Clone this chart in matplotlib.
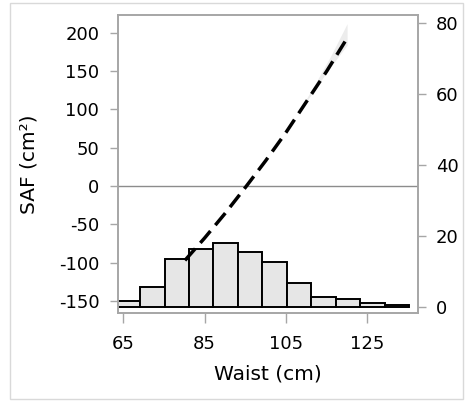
import matplotlib
matplotlib.use("Agg")
import matplotlib.pyplot as plt
from matplotlib.patches import Rectangle

plt.rcParams["axes.unicode_minus"] = False

# histogram of waist (right axis, counts)
bin_left = [63.2, 69.2, 75.2, 81.2, 87.2, 93.2, 99.2, 105.2, 111.2, 117.2, 123.2, 129.2]
bin_width = 6.0
counts = [1.6, 5.5, 13.4, 16.2, 17.9, 15.6, 12.8, 6.8, 2.8, 2.2, 1.2, 0.55]

# fitted SAF curve (left axis)
waist = [80.2, 85, 90, 95, 100, 105, 110, 115, 120]
saf = [-97, -68, -36, -2, 33, 70, 110, 150, 193]

# confidence band near the upper end
band_x = [108, 112, 116, 120]
band_lo = [94, 126, 156, 184]
band_hi = [96, 132, 170, 212]

left_ticks = [-150, -100, -50, 0, 50, 100, 150, 200]
right_ticks = [0, 20, 40, 60, 80]
x_ticks = [65, 85, 105, 125]

W, H = 465, 401
fig = plt.figure(figsize=(W / 100, H / 100), dpi=100)

# outer frame
fig.patches.append(Rectangle((10 / W, 2 / H), 453 / W, 396 / H, transform=fig.transFigure,
                             fill=False, edgecolor="#d9d9d9", lw=1))

ax = fig.add_axes([118 / W, (H - 313) / H, 300 / W, 298 / H])
ax2 = ax.twinx()

ax2.bar(bin_left, counts, width=bin_width, align="edge", color="#e6e6e6",
        edgecolor="black", linewidth=1.4)
ax2.set_ylim(-1.7, 82.3)
ax2.set_yticks(right_ticks)

ax.axhline(0, color="#8c8c8c", lw=1)
ax.fill_between(band_x, band_lo, band_hi, color="#ececec", lw=0)
ax.plot(waist, saf, color="black", lw=2.5, dashes=(4.5, 2.2), solid_capstyle="butt")
ax.set_xlim(63.77, 137.4)
ax.set_ylim(-165.7, 223.3)
ax.set_yticks(left_ticks)
ax.set_xticks(x_ticks)

ax.set_zorder(ax2.get_zorder() + 1)
ax.patch.set_visible(False)

for a in (ax, ax2):
    for s in a.spines.values():
        s.set_color("#a6a6a6")
        s.set_linewidth(1.2)

ax.tick_params(axis="y", direction="out", length=6, width=1, color="#a6a6a6",
               labelsize=13, pad=7.5)
ax.tick_params(axis="x", direction="out", length=7, width=1, color="#a6a6a6",
               labelsize=13, pad=9)
ax2.tick_params(axis="y", direction="out", length=6, width=1, color="#a6a6a6",
                labelsize=13, pad=7)

ax.set_xlabel("Waist (cm)", fontsize=14.5)
ax.set_ylabel("SAF (cm²)", fontsize=14.5)
ax.xaxis.set_label_coords(0.5, -0.172)
ax.yaxis.set_label_coords(-0.265, 0.5)

fig.savefig("out.png", dpi=100)
